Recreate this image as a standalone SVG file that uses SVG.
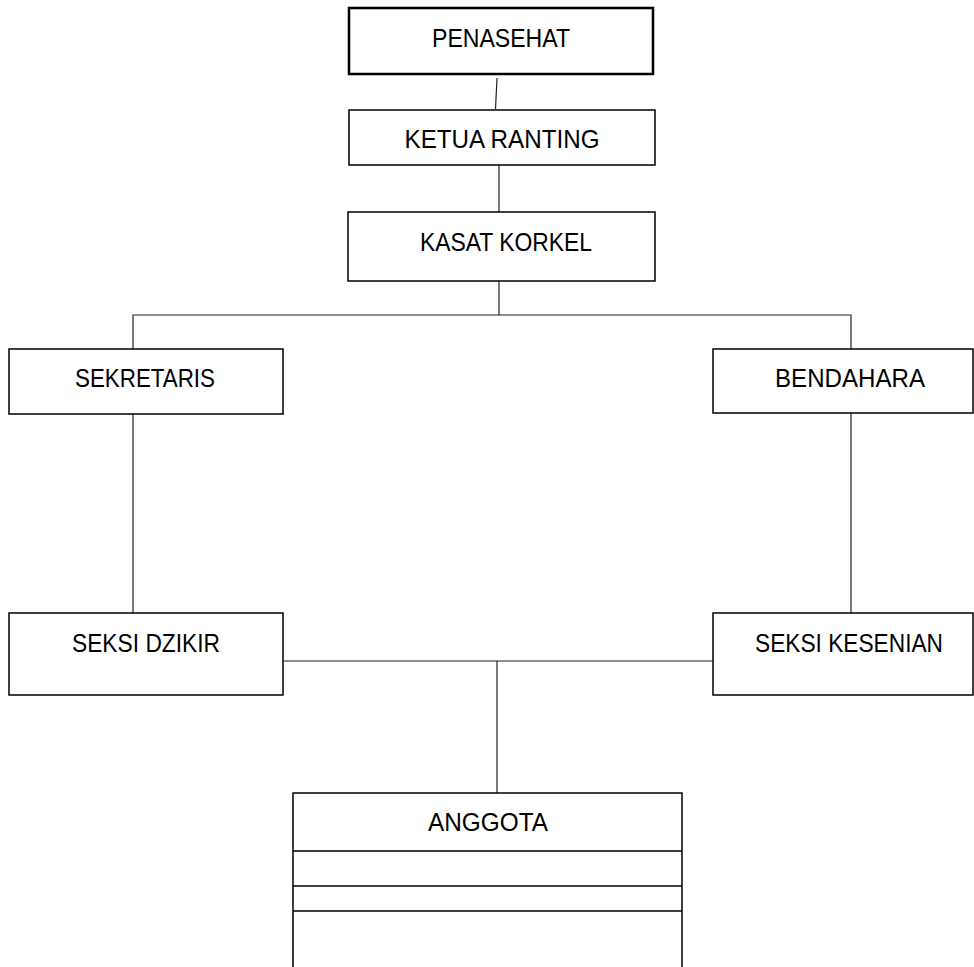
<svg xmlns="http://www.w3.org/2000/svg" width="974" height="967" viewBox="0 0 974 967">
<style>
.box{fill:#fff;stroke:#000;stroke-width:1.5}
.thick{stroke-width:2.5}
.lbl{font-family:"Liberation Sans","Open Sans",sans-serif;font-size:25px;fill:#000;text-anchor:middle}
.conn{stroke:#222;stroke-width:1.2;fill:none}
</style>
<rect width="974" height="967" fill="#fff"/>
<g id="connectors">
<line class="conn" x1="497" y1="78" x2="495.5" y2="109"/>
<line class="conn" x1="499" y1="165" x2="499" y2="212"/>
<line class="conn" x1="499" y1="281" x2="499" y2="315"/>
<polyline class="conn" points="133,349 133,315 851,315 851,349"/>
<line class="conn" x1="133" y1="414" x2="133" y2="613"/>
<line class="conn" x1="851" y1="413" x2="851" y2="613"/>
<line class="conn" x1="283" y1="661" x2="713" y2="661"/>
<line class="conn" x1="497" y1="661" x2="497" y2="793"/>
</g>
<g id="penasehat">
<rect class="box thick" x="349" y="8" width="304" height="66"/>
<text class="lbl" x="501" y="47" textLength="138" lengthAdjust="spacingAndGlyphs">PENASEHAT</text>
</g>
<g id="ketua-ranting">
<rect class="box" x="349" y="110" width="306" height="55"/>
<text class="lbl" x="502" y="148" textLength="195" lengthAdjust="spacingAndGlyphs">KETUA RANTING</text>
</g>
<g id="kasat-korkel">
<rect class="box" x="348" y="212" width="307" height="69"/>
<text class="lbl" x="506" y="251" textLength="172" lengthAdjust="spacingAndGlyphs">KASAT KORKEL</text>
</g>
<g id="sekretaris">
<rect class="box" x="9" y="349" width="274" height="65"/>
<text class="lbl" x="145" y="387" textLength="140" lengthAdjust="spacingAndGlyphs">SEKRETARIS</text>
</g>
<g id="bendahara">
<rect class="box" x="713" y="349" width="260" height="64"/>
<text class="lbl" x="850" y="387" textLength="150" lengthAdjust="spacingAndGlyphs">BENDAHARA</text>
</g>
<g id="seksi-dzikir">
<rect class="box" x="9" y="613" width="274" height="82"/>
<text class="lbl" x="146" y="652" textLength="148" lengthAdjust="spacingAndGlyphs">SEKSI DZIKIR</text>
</g>
<g id="seksi-kesenian">
<rect class="box" x="713" y="613" width="260" height="82"/>
<text class="lbl" x="849" y="652" textLength="188" lengthAdjust="spacingAndGlyphs">SEKSI KESENIAN</text>
</g>
<g id="anggota">
<rect class="box" x="293" y="793" width="389" height="190"/>
<line class="box" x1="293" y1="851" x2="682" y2="851"/>
<line class="box" x1="293" y1="886" x2="682" y2="886"/>
<line class="box" x1="293" y1="911" x2="682" y2="911"/>
<text class="lbl" x="488" y="831" textLength="120" lengthAdjust="spacingAndGlyphs">ANGGOTA</text>
</g>
</svg>
